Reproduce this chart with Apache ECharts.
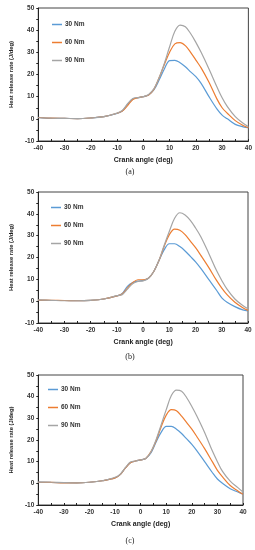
<!DOCTYPE html>
<html>
<head>
<meta charset="utf-8">
<script src="https://cdn.jsdelivr.net/npm/echarts@6/dist/echarts.min.js"></script>
<style>html,body{margin:0;padding:0;background:#fff}#c{width:255px;height:550px}</style>
</head>
<body>
<div id="c"></div>
<script>
const angles = [-40,-35,-30,-25,-20,-15,-10,-8,-6,-4,-2,0,2,4,6,8,10,12,14,16,18,20,22,25,28,30,32,35,38,40];
const seriesNames = ['30 Nm','60 Nm','90 Nm'];
const panelLabels = ['(a)','(b)','(c)'];
const xTicks = [-40,-30,-20,-10,0,10,20,30,40];
const yTicks = [-10,0,10,20,30,40,50];

const blueA   = [0.7,0.2,0.2,0.1,0.4,1.0,2.4,3.5,6.5,9.0,9.5,10.0,10.8,13.0,17.5,22.5,26.3,26.4,25.3,23.5,21.2,19.0,16.0,10.0,4.5,1.7,0.0,-2.5,-3.6,-4.0];
const orangeA = [0.6,0.3,0.2,0.1,0.4,1.0,2.5,3.5,6.0,8.7,9.6,10.0,10.8,13.3,18.5,24.5,30.0,33.8,34.4,33.0,30.0,26.5,23.0,16.5,9.0,5.0,2.5,-0.8,-3.0,-4.0];
const grayA   = [0.5,0.3,0.2,0.1,0.4,1.0,2.6,3.8,6.8,9.2,9.6,10.0,11.0,13.5,18.5,25.0,32.5,39.5,42.3,41.5,38.5,34.5,30.0,22.5,14.5,9.5,5.5,1.0,-2.0,-3.5];

const blueB   = [0.5,0.3,0.3,0.2,0.4,1.0,2.4,3.5,6.8,8.5,9.2,9.5,10.5,13.5,18.5,23.5,26.3,26.3,25.0,23.0,20.5,18.0,15.0,10.0,5.0,1.5,-0.5,-2.5,-4.0,-4.5];
const orangeB = [0.5,0.4,0.3,0.2,0.4,1.0,2.4,3.3,6.0,8.5,9.8,9.8,10.5,13.5,18.5,25.0,30.5,33.0,32.5,30.5,27.5,24.5,21.0,15.5,9.5,6.0,3.0,-0.5,-3.0,-4.2];
const grayB   = [0.6,0.4,0.2,0.2,0.4,1.0,2.5,3.0,5.5,8.0,9.0,9.3,10.5,13.5,18.5,25.5,32.0,38.0,40.5,39.5,37.0,33.5,29.5,22.0,14.0,9.5,5.5,1.0,-2.0,-3.5];

const blueC   = [0.6,0.4,0.3,0.2,0.5,1.2,2.5,4.0,7.0,9.5,10.3,10.8,11.5,14.0,19.0,23.5,26.3,26.3,25.0,23.0,20.5,18.0,15.0,10.0,5.0,2.0,0.0,-2.5,-4.0,-5.0];
const orangeC = [0.5,0.4,0.2,0.2,0.5,1.2,2.5,4.0,7.0,9.5,10.3,10.8,11.5,14.5,19.5,26.0,31.5,34.0,33.5,31.0,28.0,25.0,21.5,16.0,10.0,6.0,3.0,-1.0,-3.5,-5.0];
const grayC   = [0.6,0.5,0.3,0.2,0.5,1.2,2.8,4.2,7.2,9.8,10.3,10.8,11.5,14.5,20.0,27.0,34.0,40.5,43.0,42.5,39.5,35.5,31.0,23.5,15.0,10.0,5.5,1.0,-2.0,-4.0];

const panels = [[blueA,orangeA,grayA],[blueB,orangeB,grayB],[blueC,orangeC,grayC]];
const colors = ['#5B9BD5','#ED7D31','#A5A5A5'];

const grids = [
  {left:31, top:8, width:219, height:133},
  {left:30, top:192, width:218, height:131},
  {left:26, top:375, width:217, height:130}
];
const legendTops = [21, 204, 386];
const legendLefts = [52, 51, 48];
const captionTops = [168, 353, 537];
const captionLefts = [130, 130, 130];

const font = 'Liberation Sans';
const option = {
  backgroundColor:'#fff',
  animation:false,
  grid: grids.map(g => Object.assign({show:true, borderColor:'#444', borderWidth:1, backgroundColor:'transparent'}, g)),
  xAxis: grids.map((g,i) => ({
    type:'value', gridIndex:i, min:xTicks[0], max:xTicks[xTicks.length-1], interval:10,
    name:'Crank angle (deg)', nameLocation:'middle', nameGap:16,
    nameTextStyle:{fontFamily:font, fontSize:7, fontWeight:'bold', color:'#222'},
    axisLine:{onZero:false, lineStyle:{color:'#222', width:1}},
    axisTick:{show:true, inside:true, length:2, lineStyle:{color:'#222'}},
    minorTick:{show:true, splitNumber:2, length:2, lineStyle:{color:'#222'}},
    splitLine:{show:false},
    axisLabel:{fontFamily:font, fontSize:6.5, fontWeight:'bold', color:'#333', margin:4}
  })),
  yAxis: grids.map((g,i) => ({
    type:'value', gridIndex:i, min:yTicks[0], max:yTicks[yTicks.length-1], interval:10,
    name:'Heat release rate (J/deg)', nameLocation:'middle', nameGap:18,
    nameTextStyle:{fontFamily:font, fontSize:5.8, fontWeight:'bold', color:'#222'},
    axisLine:{show:true, onZero:false, lineStyle:{color:'#222', width:1}},
    axisTick:{show:true, length:2, lineStyle:{color:'#222'}},
    minorTick:{show:true, splitNumber:2, length:2, lineStyle:{color:'#222'}},
    splitLine:{show:false},
    axisLabel:{fontFamily:font, fontSize:6.5, fontWeight:'bold', color:'#333', margin:4}
  })),
  legend: grids.map((g,i) => ({
    data:seriesNames, orient:'vertical', left:legendLefts[i], top:legendTops[i], padding:0,
    icon:'rect', itemWidth:10, itemHeight:1.5, itemGap:11,
    textStyle:{fontFamily:font, fontSize:6.5, fontWeight:'bold', color:'#333', padding:[0,0,0,-2]}
  })),
  title: panelLabels.map((t,i) => ({
    text:t, left:captionLefts[i], top:captionTops[i], textAlign:'center', padding:0,
    textStyle:{fontFamily:'Liberation Serif', fontSize:8, fontWeight:'normal', color:'#222'}
  })),
  series: []
};
panels.forEach((p,i) => {
  p.forEach((vals,k) => {
    option.series.push({
      type:'line', name:seriesNames[k], xAxisIndex:i, yAxisIndex:i,
      data: angles.map((a,j) => [a, vals[j]]),
      showSymbol:false, smooth:0.35, color:colors[k],
      lineStyle:{width:1.2, color:colors[k]}
    });
  });
});
const chart = echarts.init(document.getElementById('c'), null, {renderer:'canvas'});
chart.setOption(option);
</script>
</body>
</html>
